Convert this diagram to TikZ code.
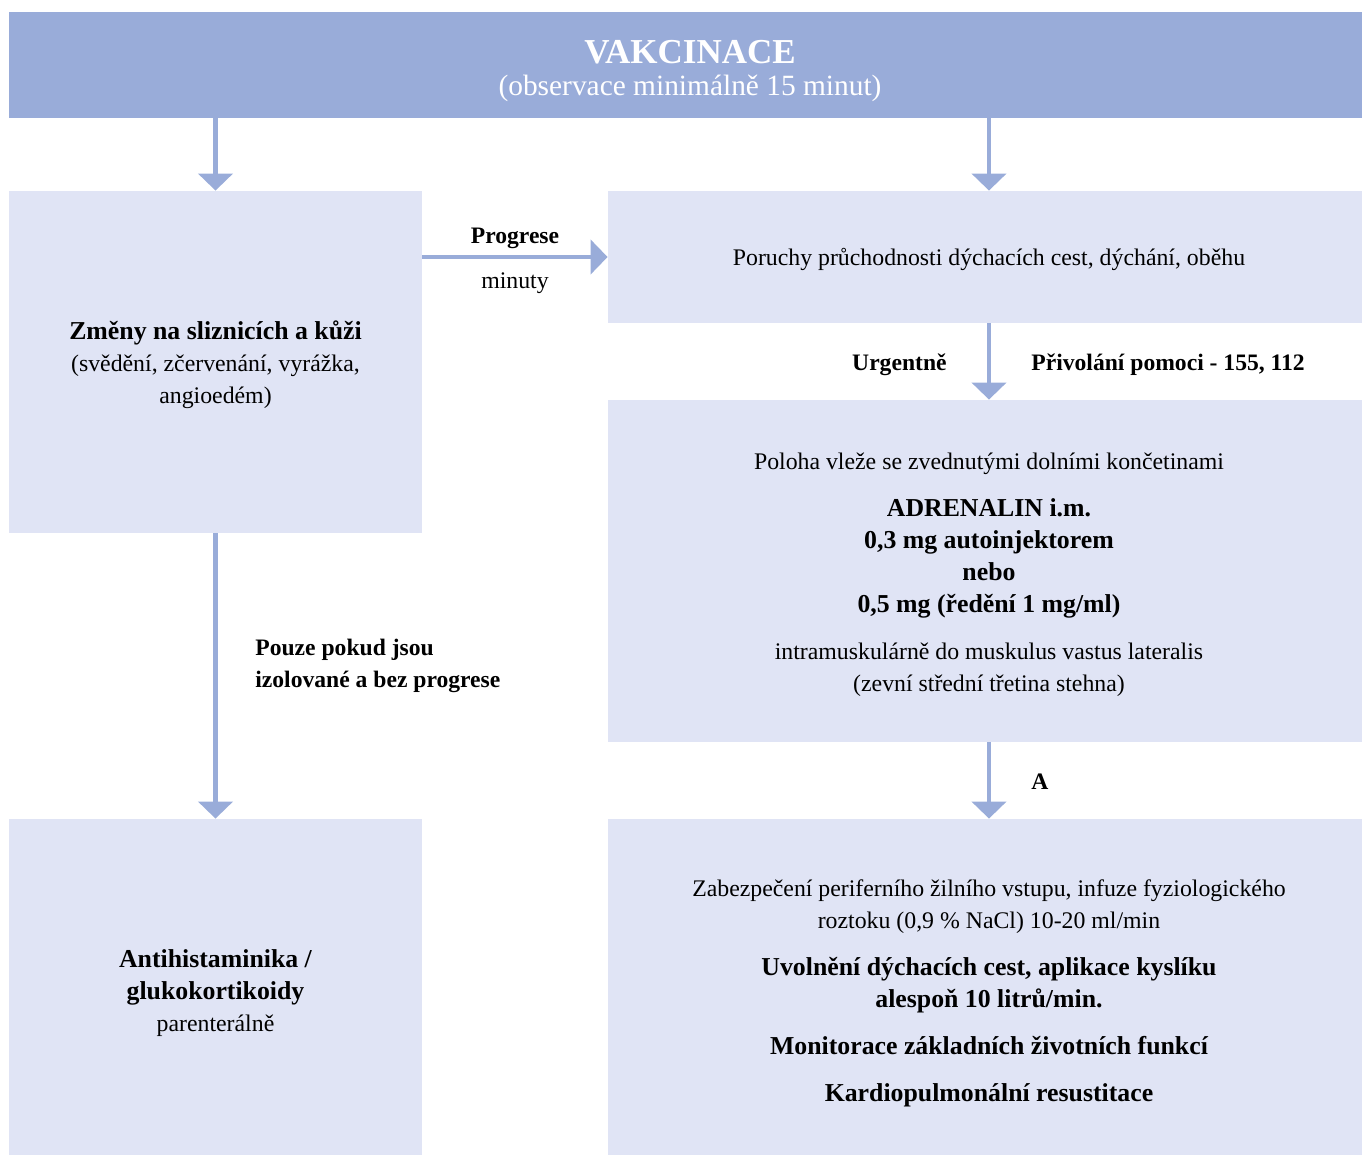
\documentclass[tikz,border=0pt]{standalone}
\usepackage{fontspec}
\setmainfont{Liberation Serif}
\usetikzlibrary{arrows.meta,calc}
\definecolor{hdr}{RGB}{153,172,217}
\definecolor{boxc}{RGB}{224,228,245}
\tikzset{
  every node/.style={font=\fontsize{11.9}{16}\selectfont, text=black},
  panel/.style={fill=boxc, draw=none, inner sep=0pt},
  wide/.style={panel, minimum width=377pt},
  narrow/.style={panel, minimum width=206.5pt},
  txt/.style={inner sep=0pt, align=center},
  arr/.style={hdr, line width=2.2pt, -{Triangle[width=17pt,length=8.5pt]}},
  lbl/.style={font=\fontsize{11.8}{16}\selectfont\bfseries, inner sep=0pt},
}
\newcommand{\bl}[1]{{\fontsize{12.9}{16}\selectfont\bfseries #1}}
\begin{document}
\begin{tikzpicture}[x=0.5pt,y=-0.5pt]
\useasboundingbox (0,0) rectangle (1362,1155);
% header
\node[fill=hdr, inner sep=0pt, minimum width=676.5pt, minimum height=53pt] (hd) at (685.5,65) {};
\node[text=white, font=\fontsize{17.5}{20}\selectfont\bfseries] (t1) at (690,52) {VAKCINACE};
\node[text=white, font=\fontsize{14.7}{18}\selectfont] (t2) at (690,88) {(observace minimálně 15 minut)};
% boxes
\node[narrow, minimum height=171pt] (A) at (215.5,362) {};
\node[wide, minimum height=66pt] (B) at (985,257) {};
\node[wide, minimum height=171pt] (C) at (985,571) {};
\node[wide, minimum height=168pt] (D) at (985,987) {};
\node[narrow, minimum height=168pt] (E) at (215.5,987) {};
% box texts
\node[txt] (Atx) at (215.5,365)
  {\bl{Změny na sliznicích a kůži}\\(svědění, zčervenání, vyrážka,\\angioedém)};
\node[txt] (Btx) at (989,259)
  {Poruchy průchodnosti dýchacích cest, dýchání, oběhu};
\node[txt] (Ctx) at (989,575)
  {Poloha vleže se zvednutými dolními končetinami\\[7.5pt]
   \bl{ADRENALIN i.m.}\\\bl{0,3 mg autoinjektorem}\\\bl{nebo}\\\bl{0,5 mg (ředění 1 mg/ml)}\\[7.5pt]
   intramuskulárně do muskulus vastus lateralis\\(zevní střední třetina stehna)};
\node[txt] (Dtx) at (989,993)
  {Zabezpečení periferního žilního vstupu, infuze fyziologického\\roztoku (0,9 \% NaCl) 10-20 ml/min\\[7.5pt]
   \bl{Uvolnění dýchacích cest, aplikace kyslíku}\\\bl{alespoň 10 litrů/min.}\\[7.5pt]
   \bl{Monitorace základních životních funkcí}\\[7.5pt]
   \bl{Kardiopulmonální resustitace}};
\node[txt] (Etx) at (215.5,993)
  {\bl{Antihistaminika /}\\\bl{glukokortikoidy}\\parenterálně};
% connectors
\draw[arr] (hd.south -| A.north) -- (A.north);
\draw[arr] ($(hd.south -| B.north)+(4,0)$) -- ($(B.north)+(4,0)$);
\draw[arr] (A.east |- B.west) -- (B.west);
\draw[arr] ($(B.south)+(4,0)$) -- ($(C.north)+(4,0)$);
\draw[arr] ($(C.south)+(4,0)$) -- ($(D.north)+(4,0)$);
\draw[arr] (A.south) -- (E.north);
% labels
\node[lbl] (lp) at (515,238) {Progrese};
\node[inner sep=0pt] (lm) at (515,283) {minuty};
\node[lbl, anchor=east] (lu) at (947,365) {Urgentně};
\node[lbl, anchor=west] (lc) at (1031,365) {Přivolání pomoci - 155, 112};
\node[lbl, anchor=west] (la) at (1031,782) {A};
\node[lbl, anchor=west, align=left] (lz) at (255,666) {Pouze pokud jsou\\izolované a bez progrese};
\end{tikzpicture}
\end{document}
